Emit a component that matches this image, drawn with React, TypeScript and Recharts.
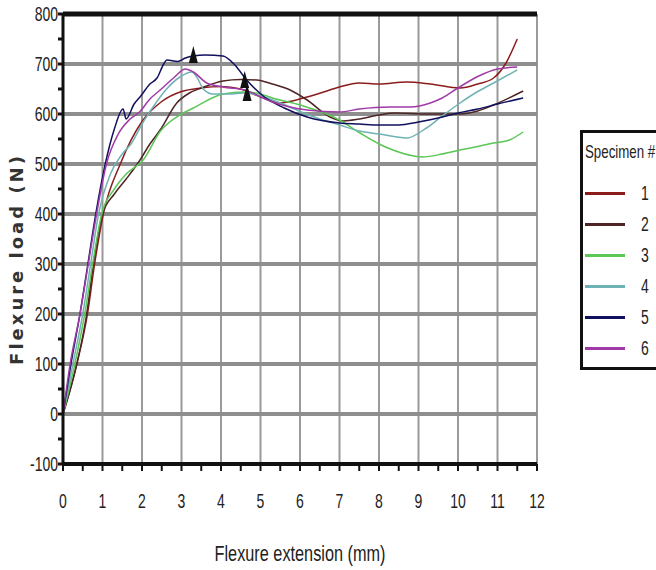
import { LineChart, Line, XAxis, YAxis, ReferenceLine, Scatter } from 'recharts';

type Pt = { x: number; y: number };

const xTicks = [0, 0.5, 1, 1.5, 2, 2.5, 3, 3.5, 4, 4.5, 5, 5.5, 6, 6.5, 7, 7.5, 8, 8.5, 9, 9.5, 10, 10.5, 11, 11.5, 12];
const yTicks = [-100, -50, 0, 50, 100, 150, 200, 250, 300, 350, 400, 450, 500, 550, 600, 650, 700, 750, 800];
const gridX = [1, 2, 3, 4, 5, 6, 7, 8, 9, 10, 11, 12];
const gridY = [0, 100, 200, 300, 400, 500, 600, 700];

const specimen1: Pt[] = [
  { x: 0, y: 0 }, { x: 0.35, y: 100 }, { x: 0.62, y: 200 }, { x: 0.8, y: 300 }, { x: 1.02, y: 400 },
  { x: 1.45, y: 500 }, { x: 2.0, y: 585 }, { x: 2.5, y: 625 }, { x: 3.0, y: 645 }, { x: 3.5, y: 652 },
  { x: 4.0, y: 655 }, { x: 4.5, y: 650 }, { x: 5.0, y: 634 }, { x: 5.5, y: 622 }, { x: 5.8, y: 626 },
  { x: 6.18, y: 634 }, { x: 6.6, y: 644 }, { x: 7.0, y: 654 }, { x: 7.5, y: 662 }, { x: 8.0, y: 660 },
  { x: 8.7, y: 664 }, { x: 9.3, y: 660 }, { x: 10.05, y: 652 }, { x: 10.5, y: 660 }, { x: 10.9, y: 672 },
  { x: 11.2, y: 700 }, { x: 11.5, y: 750 },
];
const specimen2: Pt[] = [
  { x: 0, y: 0 }, { x: 0.35, y: 100 }, { x: 0.6, y: 200 }, { x: 0.77, y: 300 }, { x: 1.0, y: 400 },
  { x: 1.3, y: 440 }, { x: 1.6, y: 470 }, { x: 1.95, y: 508 }, { x: 2.2, y: 540 }, { x: 2.46, y: 568 },
  { x: 2.88, y: 622 }, { x: 3.2, y: 642 }, { x: 3.5, y: 652 }, { x: 4.05, y: 666 }, { x: 4.5, y: 669 },
  { x: 4.9, y: 668 }, { x: 5.3, y: 660 }, { x: 5.75, y: 648 }, { x: 6.18, y: 628 }, { x: 6.76, y: 594 },
  { x: 7.1, y: 586 }, { x: 7.5, y: 590 }, { x: 8.0, y: 598 }, { x: 8.4, y: 602 }, { x: 9.2, y: 600 },
  { x: 10.05, y: 600 }, { x: 10.5, y: 606 }, { x: 10.9, y: 618 }, { x: 11.65, y: 646 },
];
const specimen3: Pt[] = [
  { x: 0, y: 0 }, { x: 0.3, y: 100 }, { x: 0.55, y: 200 }, { x: 0.75, y: 300 }, { x: 0.98, y: 400 },
  { x: 1.3, y: 450 }, { x: 1.6, y: 480 }, { x: 2.03, y: 508 }, { x: 2.46, y: 565 }, { x: 3.0, y: 600 },
  { x: 3.3, y: 612 }, { x: 4.05, y: 640 }, { x: 4.6, y: 644 }, { x: 5.0, y: 640 }, { x: 5.3, y: 632 },
  { x: 6.0, y: 618 }, { x: 7.0, y: 588 }, { x: 7.52, y: 562 }, { x: 8.0, y: 540 }, { x: 8.35, y: 528 },
  { x: 9.1, y: 514 }, { x: 9.6, y: 520 }, { x: 10.05, y: 528 }, { x: 10.5, y: 535 }, { x: 10.9, y: 542 },
  { x: 11.3, y: 548 }, { x: 11.65, y: 564 },
];
const specimen4: Pt[] = [
  { x: 0, y: 0 }, { x: 0.25, y: 100 }, { x: 0.5, y: 200 }, { x: 0.7, y: 300 }, { x: 0.9, y: 400 },
  { x: 1.2, y: 480 }, { x: 1.5, y: 520 }, { x: 1.74, y: 542 }, { x: 2.0, y: 580 }, { x: 2.28, y: 614 },
  { x: 2.6, y: 648 }, { x: 2.96, y: 674 }, { x: 3.26, y: 684 }, { x: 3.4, y: 672 }, { x: 3.55, y: 650 },
  { x: 3.8, y: 640 }, { x: 4.2, y: 640 }, { x: 4.6, y: 642 }, { x: 5.0, y: 636 }, { x: 5.5, y: 622 },
  { x: 6.0, y: 605 }, { x: 6.5, y: 590 }, { x: 7.0, y: 578 }, { x: 7.5, y: 566 }, { x: 8.0, y: 560 },
  { x: 8.7, y: 552 }, { x: 9.2, y: 572 }, { x: 9.6, y: 596 }, { x: 10.05, y: 622 }, { x: 10.5, y: 645 },
  { x: 10.9, y: 662 }, { x: 11.5, y: 688 },
];
const specimen5: Pt[] = [
  { x: 0, y: 0 }, { x: 0.2, y: 100 }, { x: 0.43, y: 200 }, { x: 0.63, y: 300 }, { x: 0.83, y: 400 },
  { x: 1.07, y: 500 }, { x: 1.3, y: 570 }, { x: 1.52, y: 610 }, { x: 1.6, y: 590 }, { x: 1.8, y: 620 },
  { x: 1.95, y: 634 }, { x: 2.2, y: 660 }, { x: 2.38, y: 672 }, { x: 2.55, y: 700 }, { x: 2.63, y: 708 },
  { x: 2.9, y: 705 }, { x: 3.1, y: 712 }, { x: 3.3, y: 716 }, { x: 3.6, y: 718 }, { x: 4.05, y: 716 },
  { x: 4.35, y: 698 }, { x: 4.65, y: 668 }, { x: 5.1, y: 634 }, { x: 5.6, y: 612 }, { x: 6.18, y: 594 },
  { x: 7.0, y: 582 }, { x: 7.5, y: 580 }, { x: 8.0, y: 578 }, { x: 8.5, y: 578 }, { x: 9.0, y: 584 },
  { x: 9.5, y: 592 }, { x: 10.0, y: 602 }, { x: 10.5, y: 610 }, { x: 11.0, y: 620 }, { x: 11.65, y: 632 },
];
const specimen6: Pt[] = [
  { x: 0, y: 0 }, { x: 0.18, y: 100 }, { x: 0.43, y: 200 }, { x: 0.64, y: 300 }, { x: 0.85, y: 400 },
  { x: 1.1, y: 500 }, { x: 1.4, y: 560 }, { x: 1.7, y: 590 }, { x: 1.95, y: 605 }, { x: 2.2, y: 630 },
  { x: 2.46, y: 648 }, { x: 2.8, y: 672 }, { x: 3.1, y: 690 }, { x: 3.3, y: 684 }, { x: 3.64, y: 662 },
  { x: 4.05, y: 654 }, { x: 4.6, y: 648 }, { x: 5.3, y: 624 }, { x: 6.18, y: 608 }, { x: 7.0, y: 604 },
  { x: 7.5, y: 610 }, { x: 8.28, y: 614 }, { x: 8.8, y: 614 }, { x: 9.3, y: 622 }, { x: 9.6, y: 632 },
  { x: 10.0, y: 652 }, { x: 10.5, y: 675 }, { x: 11.0, y: 690 }, { x: 11.5, y: 694 },
];

const peakMarkers: Pt[] = [
  { x: 3.3, y: 718 },
  { x: 4.6, y: 668 },
  { x: 4.66, y: 642 },
];

const series = [
  { name: '1', data: specimen1, color: '#8b1c1c' },
  { name: '2', data: specimen2, color: '#4e2424' },
  { name: '3', data: specimen3, color: '#5cc656' },
  { name: '4', data: specimen4, color: '#6fb2b4' },
  { name: '5', data: specimen5, color: '#10105e' },
  { name: '6', data: specimen6, color: '#a03aa6' },
];

// no condensed face installed, so squeeze Liberation Sans horizontally
const FONT = '"Liberation Sans", Arial, sans-serif';
const SQUEEZE = 0.7;

const XTick = (props: any) => {
  const { x, y, payload } = props;
  if (!Number.isInteger(payload.value)) return <g />;
  return (
    <text transform={`translate(${x},${y + 35}) scale(${SQUEEZE},1)`} textAnchor="middle" fontFamily={FONT} fontSize={20} fill="#222">
      {payload.value}
    </text>
  );
};

const YTick = (props: any) => {
  const { x, y, payload } = props;
  if (payload.value % 100 !== 0) return <g />;
  return (
    <text transform={`translate(${x + 2},${y + 7}) scale(${SQUEEZE},1)`} textAnchor="end" fontFamily={FONT} fontSize={20} fill="#222">
      {payload.value}
    </text>
  );
};

const XLabel = (props: any) => {
  const { viewBox } = props;
  const cx = viewBox.x + viewBox.width / 2;
  return (
    <text transform={`translate(${cx},${viewBox.y + 97}) scale(0.74,1)`} textAnchor="middle" fontFamily={FONT} fontSize={22} fill="#222">
      Flexure extension (mm)
    </text>
  );
};

const YLabel = (props: any) => {
  const { viewBox } = props;
  const cy = viewBox.y + viewBox.height / 2;
  return (
    <text
      transform={`translate(23,${cy + 20}) rotate(-90)`}
      textAnchor="middle"
      fontFamily='"DejaVu Sans", Verdana, sans-serif'
      fontSize={18}
      fontWeight="bold"
      letterSpacing={3}
      fill="#333"
    >
      Flexure load  (N)
    </text>
  );
};

const Triangle = (props: any) => {
  const { cx, cy } = props;
  return <path d={`M${cx},${cy - 9} L${cx + 4.5},${cy + 8} L${cx - 4.5},${cy + 8} Z`} fill="#111" />;
};

const squeezed = (size: number): React.CSSProperties => ({
  display: 'inline-block',
  fontFamily: FONT,
  fontSize: size,
  transform: `scaleX(${SQUEEZE})`,
  transformOrigin: 'left center',
  whiteSpace: 'nowrap',
});

const SpecimenLegend = () => (
  <div
    style={{
      position: 'absolute',
      left: 580,
      top: 130,
      width: 90,
      height: 240,
      border: '3px solid #111',
      background: '#fff',
      color: '#222',
      boxSizing: 'border-box',
    }}
  >
    <div style={{ marginTop: 8, marginLeft: 2, height: 22 }}>
      <span style={squeezed(19)}>Specimen #</span>
    </div>
    <div style={{ marginTop: 15 }}>
      {series.map((s) => (
        <div key={s.name} style={{ display: 'flex', alignItems: 'center', height: 31 }}>
          <div style={{ width: 40, height: 3, background: s.color, marginLeft: 2 }} />
          <span style={{ ...squeezed(20), marginLeft: 16 }}>{s.name}</span>
        </div>
      ))}
    </div>
  </div>
);

export default function App() {
  return (
    <div style={{ position: 'absolute', left: 0, top: 0, width: 656, height: 570, background: '#fff', overflow: 'hidden' }}>
      <LineChart width={656} height={570} margin={{ top: 14, right: 119, bottom: 0, left: 0 }}>
        {gridX.map((v) => (
          <ReferenceLine key={'gx' + v} x={v} stroke="#9a9a9a" strokeWidth={2} />
        ))}
        {gridY.map((v) => (
          <ReferenceLine key={'gy' + v} y={v} stroke="#8e8e8e" strokeWidth={4} />
        ))}
        <XAxis
          type="number"
          dataKey="x"
          domain={[0, 12]}
          ticks={xTicks}
          interval={0}
          allowDataOverflow
          tick={XTick}
          tickSize={7}
          tickLine={{ stroke: '#111', strokeWidth: 2 }}
          axisLine={{ stroke: '#111', strokeWidth: 4 }}
          height={106}
          label={XLabel}
        />
        <YAxis
          type="number"
          dataKey="y"
          domain={[-100, 800]}
          ticks={yTicks}
          interval={0}
          allowDataOverflow
          width={63}
          tick={YTick}
          tickSize={5}
          tickLine={{ stroke: '#111', strokeWidth: 3 }}
          axisLine={{ stroke: '#111', strokeWidth: 3 }}
          label={YLabel}
        />
        <ReferenceLine y={800} stroke="#111" strokeWidth={5} />
        {series.map((s) => (
          <Line
            key={s.name}
            data={s.data}
            dataKey="y"
            name={s.name}
            type="monotone"
            stroke={s.color}
            strokeWidth={1.5}
            dot={false}
            isAnimationActive={false}
          />
        ))}
        <Scatter data={peakMarkers} dataKey="y" shape={Triangle} isAnimationActive={false} legendType="none" />
      </LineChart>
      <SpecimenLegend />
    </div>
  );
}
